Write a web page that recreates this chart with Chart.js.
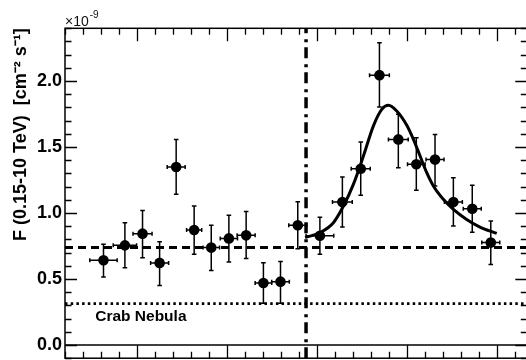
<!DOCTYPE html>
<html>
<head>
<meta charset="utf-8">
<script src="https://cdn.jsdelivr.net/npm/chart.js@4/dist/chart.umd.min.js"></script>
<style>
html,body{margin:0;padding:0;overflow:hidden;background:#fff;width:526px;height:360px}
#wrap{position:absolute;left:0;top:0;width:534px;height:372px}
canvas{display:block}
</style>
</head>
<body>
<div id="wrap"><canvas id="c" width="534" height="372"></canvas></div>
<script>
// ---- data ----
const TIME       = [3.14, 4.33, 5.31, 6.26, 7.18, 8.18, 9.13, 10.11, 11.07, 12.03, 12.98, 13.94, 15.17, 16.42, 17.44, 18.48, 19.53, 20.53, 21.57, 22.59, 23.64, 24.67];
const TIME_ERR   = [0.76, 0.65, 0.53, 0.50, 0.50, 0.42, 0.46, 0.48, 0.50, 0.46, 0.49, 0.50, 0.77, 0.55, 0.53, 0.55, 0.55, 0.49, 0.50, 0.50, 0.50, 0.50];
const FLUX       = [0.642, 0.755, 0.844, 0.622, 1.349, 0.871, 0.738, 0.808, 0.831, 0.470, 0.480, 0.907, 0.828, 1.083, 1.336, 2.045, 1.558, 1.370, 1.405, 1.083, 1.033, 0.776];
const FLUX_HIGH  = [0.763, 0.927, 1.020, 0.783, 1.558, 1.053, 0.907, 0.983, 1.011, 0.624, 0.632, 1.086, 0.968, 1.273, 1.538, 2.290, 1.748, 1.571, 1.596, 1.268, 1.210, 0.939];
const FLUX_LOW   = [0.515, 0.586, 0.662, 0.450, 1.142, 0.687, 0.565, 0.629, 0.655, 0.316, 0.316, 0.730, 0.687, 0.894, 1.134, 1.803, 1.344, 1.172, 1.205, 0.902, 0.854, 0.611];
const FIT_TIME   = [14.35, 15.18, 15.92, 16.48, 17.03, 17.59, 18.14, 18.61, 18.98, 19.44, 20.00, 20.37, 20.74, 21.11, 21.48, 22.03, 22.59, 23.33, 24.07, 25.00];
const FIT_FLUX   = [0.814, 0.852, 0.927, 1.053, 1.217, 1.432, 1.659, 1.786, 1.816, 1.773, 1.665, 1.558, 1.432, 1.306, 1.205, 1.104, 1.028, 0.952, 0.894, 0.846];
const BASELINE_FLUX = 0.738;
const CRAB_FLUX     = 0.314;
const FLARE_START   = 14.4;
const Y_TICKS       = [0.0, 0.5, 1.0, 1.5, 2.0];
const X_MIN = 1.0, X_MAX = 26.7, Y_MIN = -0.1, Y_MAX = 2.4;
const Y_TITLE = 'F (0.15-10 TeV)  [cm\u207B\u00B2 s\u207B\u00B9]';
const CRAB_LABEL = 'Crab Nebula';

const FONT = "'Liberation Sans', Arial, Helvetica, sans-serif";

const decor = {
  id: 'decor',
  beforeDatasetsDraw(chart) {
    const {ctx, scales: {x, y}} = chart;
    const a = chart.chartArea;
    ctx.save();
    ctx.beginPath(); ctx.rect(a.left, a.top, a.right - a.left, a.bottom - a.top); ctx.clip();
    // zero line
    ctx.strokeStyle = '#000'; ctx.lineWidth = 1.5;
    ctx.beginPath();
    ctx.moveTo(a.left, y.getPixelForValue(0)); ctx.lineTo(a.right, y.getPixelForValue(0));
    ctx.stroke();
    // error bars
    ctx.lineWidth = 1.5;
    for (let i = 0; i < TIME.length; i++) {
      const px = x.getPixelForValue(TIME[i]);
      const py = y.getPixelForValue(FLUX[i]);
      const x0 = x.getPixelForValue(TIME[i] - TIME_ERR[i]);
      const x1 = x.getPixelForValue(TIME[i] + TIME_ERR[i]);
      const y0 = y.getPixelForValue(FLUX_LOW[i]);
      const y1 = y.getPixelForValue(FLUX_HIGH[i]);
      ctx.beginPath();
      ctx.moveTo(px, y0); ctx.lineTo(px, y1);
      ctx.moveTo(x0, py); ctx.lineTo(x1, py);
      ctx.moveTo(px - 2.3, y0); ctx.lineTo(px + 2.3, y0);
      ctx.moveTo(px - 2.3, y1); ctx.lineTo(px + 2.3, y1);
      ctx.moveTo(x0, py - 2); ctx.lineTo(x0, py + 2);
      ctx.moveTo(x1, py - 2); ctx.lineTo(x1, py + 2);
      ctx.stroke();
    }
    ctx.restore();
  },
  afterDraw(chart) {
    const {ctx, scales: {x, y}} = chart;
    const a = chart.chartArea;
    ctx.save();
    ctx.strokeStyle = '#000';
    ctx.lineWidth = 1.5;
    ctx.strokeRect(a.left, a.top, a.right - a.left, a.bottom - a.top);
    ctx.lineWidth = 1.3;
    ctx.beginPath();
    // x ticks (top & bottom, inward)
    for (let v = Math.ceil(X_MIN); v <= X_MAX; v++) {
      const px = Math.round(x.getPixelForValue(v)) + 0.5;
      const len = (v % 5 === 0) ? 13 : 6.5;
      ctx.moveTo(px, a.top); ctx.lineTo(px, a.top + len);
      ctx.moveTo(px, a.bottom); ctx.lineTo(px, a.bottom - len);
    }
    // y ticks (left & right, inward)
    for (let k = Math.round(Y_MIN * 10); k <= Math.round(Y_MAX * 10); k++) {
      const py = Math.round(y.getPixelForValue(k / 10)) + 0.5;
      const len = (k % 5 === 0) ? 12 : 6.5;
      ctx.moveTo(a.left, py); ctx.lineTo(a.left + len, py);
      ctx.moveTo(a.right, py); ctx.lineTo(a.right - len, py);
    }
    ctx.stroke();
    // exponent label
    ctx.fillStyle = '#111';
    ctx.textBaseline = 'alphabetic';
    ctx.textAlign = 'left';
    ctx.font = '14px ' + FONT;
    ctx.fillText('\u00D710', a.left, 25.5);
    const w = ctx.measureText('\u00D710').width;
    ctx.font = '10px ' + FONT;
    ctx.fillText('-9', a.left + w + 1, 18);
    // Crab Nebula label
    ctx.fillStyle = '#000';
    ctx.font = 'bold 15.5px ' + FONT;
    ctx.fillText(CRAB_LABEL, x.getPixelForValue(2.68), y.getPixelForValue(CRAB_FLUX) + 17.5);
    ctx.restore();
  }
};

new Chart(document.getElementById('c'), {
  data: {
    datasets: [
      {
        type: 'scatter',
        data: TIME.map((t, i) => ({x: t, y: FLUX[i]})),
        backgroundColor: '#000', borderColor: '#000', borderWidth: 0,
        pointRadius: 5.3, pointHoverRadius: 5.3, order: 1
      },
      {
        type: 'line',
        data: FIT_TIME.map((t, i) => ({x: t, y: FIT_FLUX[i]})),
        borderColor: '#000', borderWidth: 3, pointRadius: 0,
        cubicInterpolationMode: 'monotone', fill: false, order: 2
      },
      {
        type: 'line',
        data: [{x: X_MIN, y: BASELINE_FLUX}, {x: X_MAX, y: BASELINE_FLUX}],
        borderColor: '#000', borderWidth: 3, borderDash: [8, 5], pointRadius: 0, order: 3
      },
      {
        type: 'line',
        data: [{x: X_MIN, y: CRAB_FLUX}, {x: X_MAX, y: CRAB_FLUX}],
        borderColor: '#000', borderWidth: 2.8, borderDash: [2.5, 3.2], pointRadius: 0, order: 4
      },
      {
        type: 'line',
        data: [{x: FLARE_START, y: Y_MIN}, {x: FLARE_START, y: Y_MAX}],
        borderColor: '#000', borderWidth: 3.5, borderDash: [11, 5, 3, 6], pointRadius: 0, order: 5
      }
    ]
  },
  options: {
    responsive: false,
    animation: false,
    devicePixelRatio: 1,
    layout: {padding: {top: 28.3, right: 6.7, bottom: 13.1, left: 0}},
    plugins: {legend: {display: false}, tooltip: {enabled: false}},
    events: [],
    scales: {
      x: {
        type: 'linear', min: X_MIN, max: X_MAX, display: false
      },
      y: {
        type: 'linear', min: Y_MIN, max: Y_MAX,
        afterBuildTicks: s => { s.ticks = Y_TICKS.map(v => ({value: v})); },
        afterFit: s => { s.width = 65; },
        grid: {display: false, drawTicks: false},
        border: {display: false},
        ticks: {
          padding: 3,
          color: '#000',
          font: {family: FONT, size: 18, weight: 'bold'},
          callback: v => Number(v).toFixed(1)
        },
        title: {
          display: true, text: Y_TITLE, align: 'end', color: '#000',
          font: {family: FONT, size: 18, weight: 'bold'},
          padding: {top: 10.2, bottom: 0}
        }
      }
    }
  },
  plugins: [decor]
});
</script>
</body>
</html>
